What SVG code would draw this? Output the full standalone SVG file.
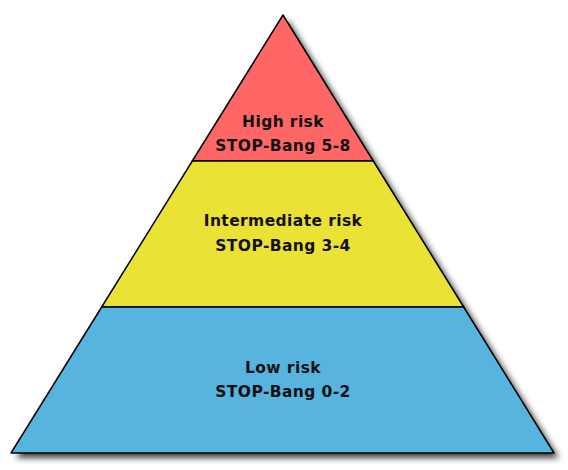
<svg xmlns="http://www.w3.org/2000/svg" width="568" height="470" viewBox="0 0 568 470">
<style>
.t{font-family:"DejaVu Sans",Verdana,sans-serif;font-weight:bold;font-size:15.5px;letter-spacing:0.4px;fill:#111;text-anchor:middle}
.l{stroke:#000;stroke-width:1.5;stroke-linejoin:round}
</style>
<defs>
<filter id="sh" x="-10%" y="-10%" width="130%" height="130%">
<feGaussianBlur in="SourceAlpha" stdDeviation="3"/>
<feOffset dx="5" dy="5" result="b"/>
<feComponentTransfer><feFuncA type="linear" slope="0.75"/></feComponentTransfer>
</filter>
</defs>
<rect width="568" height="470" fill="#fff"/>
<polygon points="283,15 554,453 11,453" fill="#000" filter="url(#sh)"/>
<g id="high">
<polygon class="l" points="283,15 373.3,161 192.3,161" fill="#FF6666"/>
<text class="t" x="283" y="127">High risk</text>
<text class="t" x="283" y="151">STOP-Bang 5-8</text>
</g>
<g id="intermediate">
<polygon class="l" points="192.3,161 373.3,161 463.7,307 101.7,307" fill="#EBE236"/>
<text class="t" x="283" y="226">Intermediate risk</text>
<text class="t" x="283" y="251">STOP-Bang 3-4</text>
</g>
<g id="low">
<polygon class="l" points="101.7,307 463.7,307 554,453 11,453" fill="#56B4DE"/>
<text class="t" x="283" y="373">Low risk</text>
<text class="t" x="283" y="397">STOP-Bang 0-2</text>
</g>
<g id="connectors"/>
</svg>
